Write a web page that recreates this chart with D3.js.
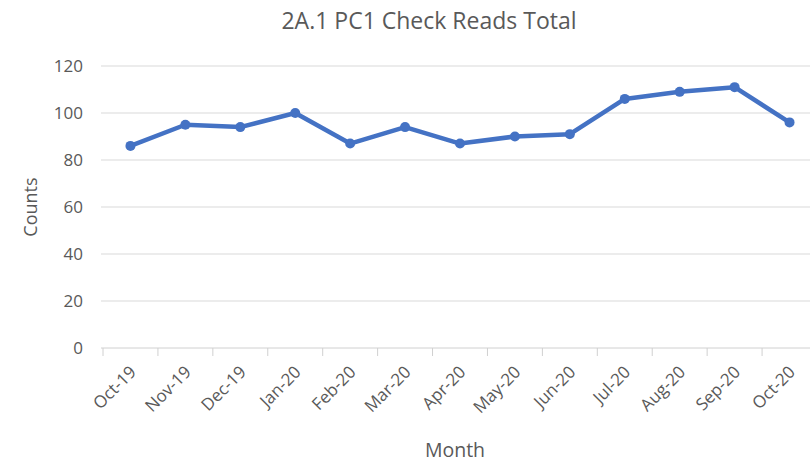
<!DOCTYPE html>
<html>
<head>
<meta charset="utf-8">
<script src="https://cdn.jsdelivr.net/npm/d3@7"></script>
<style>
  body { margin: 0; background: #fff; }
  text { font-family: "Open Sans", "Liberation Sans", sans-serif; fill: #595959; }
</style>
</head>
<body>
<div id="chart"></div>
<script>
const months = ["Oct-19", "Nov-19", "Dec-19", "Jan-20", "Feb-20", "Mar-20", "Apr-20",
                "May-20", "Jun-20", "Jul-20", "Aug-20", "Sep-20", "Oct-20"];
const counts = [86, 95, 94, 100, 87, 94, 87, 90, 91, 106, 109, 111, 96];
const yTicks = [0, 20, 40, 60, 80, 100, 120];

const width = 810;
const height = 465;
const margin = { top: 66, right: -7, bottom: 117, left: 103 };

const svg = d3.select("#chart").append("svg")
    .attr("width", width)
    .attr("height", height);

// band scale: ticks on category boundaries, points at centers
const x = d3.scaleBand()
    .domain(months)
    .range([margin.left, width - margin.right]);

const y = d3.scaleLinear()
    .domain([0, 120])
    .range([height - margin.bottom, margin.top]);

// gridlines
svg.append("g")
    .selectAll("line")
    .data(yTicks.filter(d => d > 0))
    .join("line")
    .attr("x1", margin.left - 2)
    .attr("x2", width)
    .attr("y1", d => y(d))
    .attr("y2", d => y(d))
    .attr("stroke", "#d9d9d9")
    .attr("stroke-width", 1);

// y tick labels
svg.append("g")
    .selectAll("text")
    .data(yTicks)
    .join("text")
    .attr("x", 83)
    .attr("y", d => y(d))
    .attr("dy", "0.35em")
    .attr("text-anchor", "end")
    .attr("font-size", "17px")
    .text(d => d);

// x axis line + ticks at band starts
const xAxis = svg.append("g");
xAxis.append("line")
    .attr("x1", margin.left - 2)
    .attr("x2", width)
    .attr("y1", y(0))
    .attr("y2", y(0))
    .attr("stroke", "#d0d0d0");

xAxis.selectAll(".tick")
    .data(months)
    .join("line")
    .attr("x1", d => x(d))
    .attr("x2", d => x(d))
    .attr("y1", y(0))
    .attr("y2", y(0) + 8)
    .attr("stroke", "#d0d0d0");

xAxis.selectAll(".lbl")
    .data(months)
    .join("text")
    .attr("transform", d => `translate(${x(d) + x.bandwidth() / 2 + 2.5},${y(0) + 21}) rotate(-45)`)
    .attr("text-anchor", "end")
    .attr("dy", "0.35em")
    .attr("font-size", "17px")
    .text(d => d);

// line
const line = d3.line()
    .x((d, i) => x(months[i]) + x.bandwidth() / 2)
    .y(d => y(d));

svg.append("path")
    .datum(counts)
    .attr("fill", "none")
    .attr("stroke", "#4472c4")
    .attr("stroke-width", 4.5)
    .attr("stroke-linejoin", "round")
    .attr("d", line);

svg.append("g")
    .selectAll("circle")
    .data(counts)
    .join("circle")
    .attr("cx", (d, i) => x(months[i]) + x.bandwidth() / 2)
    .attr("cy", d => y(d))
    .attr("r", 5)
    .attr("fill", "#4472c4");

// title
svg.append("text")
    .attr("x", 429)
    .attr("y", 29)
    .attr("text-anchor", "middle")
    .attr("font-size", "23px")
    .text("2A.1 PC1 Check Reads Total");

// axis titles
svg.append("text")
    .attr("transform", `translate(37,${(y(0) + y(120)) / 2}) rotate(-90)`)
    .attr("text-anchor", "middle")
    .attr("font-size", "18px")
    .text("Counts");

svg.append("text")
    .attr("x", 455)
    .attr("y", 457)
    .attr("text-anchor", "middle")
    .attr("font-size", "19.5px")
    .text("Month");
</script>
</body>
</html>
